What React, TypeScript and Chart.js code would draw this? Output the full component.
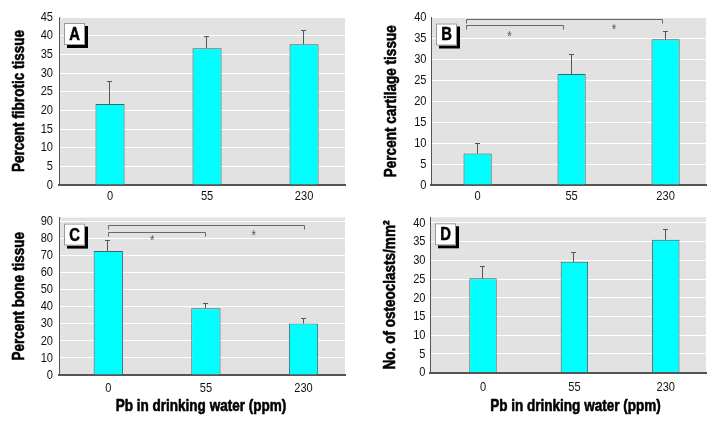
import React, { useEffect, useRef } from "react";
import { Chart, registerables } from "chart.js";

Chart.register(...registerables);

// ---------- data ----------
const doseLabels = ["0", "55", "230"];

const fibroticValues = [21.7, 36.6, 37.7];
const fibroticErrors = [6.2, 3.3, 3.8];

const cartilageValues = [7.5, 26.5, 34.8];
const cartilageErrors = [2.6, 4.8, 2.0];

const boneValues = [72.5, 39.0, 30.1];
const boneErrors = [6.2, 3.3, 3.5];

const osteoclastValues = [25.2, 29.6, 35.5];
const osteoclastErrors = [3.4, 2.5, 2.8];

// significance brackets: [fromCategory, toCategory, yValue]
const cartilageBrackets = [
  [-0.12, 1.96, 39.6],
  [-0.12, 0.91, 38.2],
];
const cartilageStars = [
  [0.34, 35.8],
  [1.45, 37.4],
];
const boneBrackets = [
  [0, 2, 87.9],
  [0, 0.99, 83.6],
];
const boneStars = [
  [0.45, 79.4],
  [1.49, 82.3],
];

const yTitles = [
  "Percent fibrotic tissue",
  "Percent cartilage tissue",
  "Percent bone tissue",
  "No. of osteoclasts/mm\u00B2",
];
const xTitle = "Pb in drinking water (ppm)";
const panelLetters = ["A", "B", "C", "D"];

// ---------- styling / layout ----------
const FONT = "'Liberation Sans', Arial, sans-serif";
const NARROW = 0.82; // horizontal condensing factor (Arial -> Arial Narrow)

type Panel = {
  letter: string;
  values: number[];
  errors: number[];
  brackets: number[][];
  stars: number[][];
  yTitle: string;
  showXTitle: boolean;
  max: number;
  step: number;
  top: number;
  left: number;
  width: number;
  height: number;
  yAxisWidth: number;
  xAxisHeight: number;
  padTop: number;
  padRight: number;
  yTitleX: number;
  xTitleX: number;
  xTickOffset: number;
  yTickPad: number;
  xStart: number;
  xRange: number;
};

const panels: Panel[] = [
  {
    letter: panelLetters[0], values: fibroticValues, errors: fibroticErrors, brackets: [], stars: [],
    yTitle: yTitles[0], showXTitle: false, max: 45, step: 5,
    left: 0, top: 0, width: 359, height: 210,
    yAxisWidth: 59, xAxisHeight: 25, padTop: 17, padRight: 14, yTitleX: 19.5, xTitleX: 0, xTickOffset: 11.5, yTickPad: 6,
    xStart: -0.526, xRange: 2.948,
  },
  {
    letter: panelLetters[1], values: cartilageValues, errors: cartilageErrors, brackets: cartilageBrackets, stars: cartilageStars,
    yTitle: yTitles[1], showXTitle: false, max: 40, step: 5,
    left: 359, top: 0, width: 359, height: 210,
    yAxisWidth: 72, xAxisHeight: 25, padTop: 17.5, padRight: 12, yTitleX: 32, xTitleX: 0, xTickOffset: 11.5, yTickPad: 4.5,
    xStart: -0.496, xRange: 2.926,
  },
  {
    letter: panelLetters[2], values: boneValues, errors: boneErrors, brackets: boneBrackets, stars: boneStars,
    yTitle: yTitles[2], showXTitle: true, max: 92, step: 10,
    left: 0, top: 210, width: 359, height: 211,
    yAxisWidth: 59, xAxisHeight: 46, padTop: 7.6, padRight: 14, yTitleX: 19.5, xTitleX: 201, xTickOffset: 13.5, yTickPad: 6,
    xStart: -0.505, xRange: 2.93,
  },
  {
    letter: panelLetters[3], values: osteoclastValues, errors: osteoclastErrors, brackets: [], stars: [],
    yTitle: yTitles[3], showXTitle: true, max: 41.5, step: 5,
    left: 359, top: 210, width: 359, height: 211,
    yAxisWidth: 71, xAxisHeight: 48.3, padTop: 7.3, padRight: 12, yTitleX: 31.5, xTitleX: 216.5, xTickOffset: 15, yTickPad: 4.5,
    xStart: -0.58, xRange: 3.02,
  },
];

function narrowText(
  ctx: CanvasRenderingContext2D,
  text: string,
  x: number,
  y: number,
  rot: number,
  stroke = 0
) {
  ctx.save();
  ctx.translate(x, y);
  if (rot) ctx.rotate(rot);
  ctx.scale(NARROW, 1);
  if (stroke > 0) {
    ctx.lineWidth = stroke;
    ctx.strokeStyle = ctx.fillStyle as string;
    ctx.lineJoin = "round";
    ctx.strokeText(text, 0, 0);
  }
  ctx.fillText(text, 0, 0);
  ctx.restore();
}

function decorPlugin(p: Panel) {
  return {
    id: "panelDecor" + p.letter,
    beforeDraw(chart: any) {
      const { ctx, chartArea: a } = chart;
      ctx.save();
      ctx.fillStyle = "#e2e2e2";
      ctx.fillRect(a.left, a.top, a.right - a.left, a.bottom - a.top);
      ctx.restore();
    },
    afterDatasetsDraw(chart: any) {
      const { ctx } = chart;
      const xs = chart.scales.x;
      const ys = chart.scales.y;
      ctx.save();
      ctx.strokeStyle = "#555";
      ctx.lineWidth = 1;
      p.values.forEach((v, i) => {
        const px = Math.round(xs.getPixelForValue(i)) - 0.5;
        const y0 = ys.getPixelForValue(v);
        const y1 = Math.round(ys.getPixelForValue(v + p.errors[i])) + 0.5;
        ctx.beginPath();
        ctx.moveTo(px, y0);
        ctx.lineTo(px, y1);
        ctx.moveTo(px - 2.5, y1);
        ctx.lineTo(px + 2.5, y1);
        ctx.stroke();
      });
      ctx.restore();
    },
    afterDraw(chart: any) {
      const { ctx, chartArea: a } = chart;
      const xs = chart.scales.x;
      const ys = chart.scales.y;
      ctx.save();
      // brackets
      ctx.strokeStyle = "#666";
      ctx.lineWidth = 1;
      p.brackets.forEach(([f, t, yv]) => {
        const x1 = Math.round(xs.getPixelForValue(f)) + 0.5;
        const x2 = Math.round(xs.getPixelForValue(t)) + 0.5;
        const y = Math.round(ys.getPixelForValue(yv)) + 0.5;
        ctx.beginPath();
        ctx.moveTo(x1, y + 4);
        ctx.lineTo(x1, y);
        ctx.lineTo(x2, y);
        ctx.lineTo(x2, y + 4);
        ctx.stroke();
      });
      // stars
      ctx.fillStyle = "#555";
      ctx.font = "14px " + FONT;
      ctx.textAlign = "center";
      ctx.textBaseline = "middle";
      p.stars.forEach(([sx, sy]) => {
        narrowText(ctx, "*", xs.getPixelForValue(sx), ys.getPixelForValue(sy) + 2, 0);
      });

      // tick labels
      ctx.fillStyle = "#111";
      ctx.font = "13.5px " + FONT;
      ctx.textAlign = "right";
      ctx.textBaseline = "middle";
      ys.ticks.forEach((t: any) => {
        narrowText(ctx, String(t.value), a.left - p.yTickPad, ys.getPixelForValue(t.value), 0);
      });
      ctx.textAlign = "center";
      doseLabels.forEach((lab, i) => {
        narrowText(ctx, lab, xs.getPixelForValue(i), a.bottom + p.xTickOffset, 0);
      });

      // axis titles
      ctx.fillStyle = "#000";
      ctx.font = "bold 16.5px " + FONT;
      ctx.textAlign = "center";
      ctx.textBaseline = "middle";
      narrowText(ctx, p.yTitle, p.yTitleX, (a.top + a.bottom) / 2, -Math.PI / 2, 0.6);
      if (p.showXTitle) {
        narrowText(ctx, xTitle, p.xTitleX, 196, 0, 0.6);
      }

      // panel letter box
      const bx = a.left + 5;
      const by = a.top + 6;
      const bw = 21;
      const bh = 22;
      ctx.fillStyle = "#000";
      ctx.fillRect(bx + 3, by + 3, bw, bh);
      ctx.fillStyle = "#fff";
      ctx.fillRect(bx, by, bw, bh);
      ctx.strokeStyle = "#999";
      ctx.lineWidth = 1;
      ctx.strokeRect(bx + 0.5, by + 0.5, bw - 1, bh - 1);
      ctx.fillStyle = "#000";
      ctx.font = "bold 18px " + FONT;
      narrowText(ctx, p.letter, bx + bw / 2, by + bh / 2 + 1, 0, 0.5);
      ctx.restore();
    },
  };
}

function PanelChart({ p }: { p: Panel }) {
  const ref = useRef<HTMLCanvasElement | null>(null);
  useEffect(() => {
    if (!ref.current) return;
    const chart = new Chart(ref.current, {
      type: "bar",
      data: {
        labels: doseLabels,
        datasets: [
          {
            data: p.values,
            backgroundColor: "#00ffff",
            borderColor: "#3d6363",
            borderWidth: 1,
            barPercentage: 0.3,
            categoryPercentage: 1,
          },
        ],
      },
      options: {
        responsive: false,
        animation: false,
        events: [],
        layout: { padding: { left: 0, right: p.padRight, top: p.padTop, bottom: 0 } },
        plugins: {
          legend: { display: false },
          tooltip: { enabled: false },
          title: { display: false },
        },
        scales: {
          x: {
            grid: { display: false, drawTicks: false },
            border: { display: true, color: "#555", width: 2 },
            ticks: { display: false },
            afterBuildTicks: (s: any) => {
              s._startValue = p.xStart;
              s._valueRange = p.xRange;
            },
            afterFit: (s: any) => {
              s.height = p.xAxisHeight;
            },
          },
          y: {
            min: 0,
            max: p.max,
            ticks: { display: false, stepSize: p.step },
            afterBuildTicks: (s: any) => {
              const out: any[] = [];
              for (let v = 0; v <= p.max + 1e-9; v += p.step) out.push({ value: v });
              s.ticks = out;
            },
            grid: { color: "#ffffff", lineWidth: 1, drawTicks: false },
            border: { display: true, color: "#555", width: 1 },
            afterFit: (s: any) => {
              s.width = p.yAxisWidth;
            },
          },
        },
      } as any,
      plugins: [decorPlugin(p) as any],
    });
    return () => chart.destroy();
  }, [p]);
  return (
    <canvas
      ref={ref}
      width={p.width}
      height={p.height}
      style={{ position: "absolute", left: p.left, top: p.top, width: p.width, height: p.height }}
    />
  );
}

export default function App() {
  return (
    <div style={{ position: "absolute", left: 0, top: 0, width: 718, height: 421, background: "#fff" }}>
      {panels.map((p) => (
        <PanelChart key={p.letter} p={p} />
      ))}
    </div>
  );
}
